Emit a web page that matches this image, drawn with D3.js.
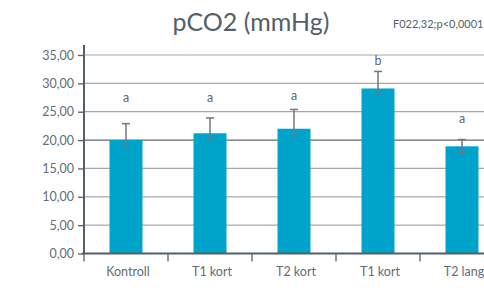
<!DOCTYPE html>
<html>
<head>
<meta charset="utf-8">
<script src="https://cdn.jsdelivr.net/npm/d3@7"></script>
<style>
  body { margin: 0; background: #fff; }
  svg { display: block; font-family: Lato, "Noto Sans", sans-serif; }
</style>
</head>
<body>
<svg id="chart" width="484" height="288"></svg>
<script>
var categories = ["Kontroll", "T1 kort", "T2 kort", "T1 kort", "T2 lang"]
var means = [20.0, 21.2, 22.0, 29.1, 18.9]
var errHigh = [22.9, 23.9, 25.4, 32.1, 20.1]
var errLow = [19.0, 20.1, 20.8, 28.2, 17.8]
var letters = ["a", "a", "a", "b", "a"]
var letterPos = [27.4, 27.4, 27.9, 34.0, 23.8]
var yTicks = [0, 5, 10, 15, 20, 25, 30, 35]

var svg = d3.select("#chart")
var plotLeft = 84, plotBottom = 253.5, plotTop = 55, step = 84

var x = d3.scaleBand().domain(d3.range(categories.length))
    .range([plotLeft, plotLeft + step * categories.length]).paddingInner(0).paddingOuter(0)
var y = d3.scaleLinear().domain([0, 35]).range([plotBottom, plotTop])
var fmt = function(d) { return d3.format(".2f")(d).replace(".", ",") }

// gridlines
svg.append("g").selectAll("line").data(yTicks.filter(function(d) { return d > 0 }))
  .join("line")
    .attr("x1", plotLeft).attr("x2", 484)
    .attr("y1", function(d) { return y(d) }).attr("y2", function(d) { return y(d) })
    .style("stroke", function(d) { return d == 20 ? "#5f6a72" : "#a3a8ac" })
    .style("stroke-width", 1.2)

// bars
var bw = 33
svg.append("g").selectAll("rect").data(means)
  .join("rect")
    .attr("x", function(d, i) { return x(i) + x.bandwidth() / 2 - bw / 2 })
    .attr("y", function(d) { return y(d) })
    .attr("width", bw)
    .attr("height", function(d) { return y(0) - y(d) })
    .style("fill", "#00a3c9")

// error bars
var eb = svg.append("g").style("stroke", "#6e787f").style("stroke-width", 1.5)
means.forEach(function(m, i) {
  var cx = x(i) + x.bandwidth() / 2
  eb.append("line").attr("x1", cx).attr("x2", cx).attr("y1", y(errHigh[i])).attr("y2", y(errLow[i]))
  eb.append("line").attr("x1", cx - 4).attr("x2", cx + 4).attr("y1", y(errHigh[i])).attr("y2", y(errHigh[i]))
  eb.append("line").attr("x1", cx - 4).attr("x2", cx + 4).attr("y1", y(errLow[i])).attr("y2", y(errLow[i]))
})

// significance letters
svg.append("g").selectAll("text").data(letters)
  .join("text")
    .attr("x", function(d, i) { return x(i) + x.bandwidth() / 2 })
    .attr("y", function(d, i) { return y(letterPos[i]) })
    .attr("dy", "0.35em")
    .attr("text-anchor", "middle")
    .style("font-size", "12.5px").style("fill", "#5d666d")
    .text(function(d) { return d })

// y axis
var yAxis = svg.append("g").attr("transform", "translate(" + plotLeft + ",0)")
    .call(d3.axisLeft(y).tickValues(yTicks).tickFormat(fmt).tickSize(6).tickPadding(4))
yAxis.select(".domain").remove()
yAxis.selectAll(".tick line").style("stroke", "#555f68").style("stroke-width", 1.3)
yAxis.selectAll(".tick text").style("font-size", "12.5px").style("fill", "#646d73")
  .style("font-family", "Lato, 'Noto Sans', sans-serif")
svg.append("line").attr("x1", plotLeft).attr("x2", plotLeft).attr("y1", 45).attr("y2", plotBottom)
  .style("stroke", "#555f68").style("stroke-width", 2)

// x axis
svg.append("line").attr("x1", plotLeft - 2).attr("x2", 484).attr("y1", plotBottom).attr("y2", plotBottom)
  .style("stroke", "#555f68").style("stroke-width", 2)
svg.append("g").selectAll("line").data(d3.range(categories.length + 1))
  .join("line")
    .attr("x1", function(i) { return plotLeft + i * step }).attr("x2", function(i) { return plotLeft + i * step })
    .attr("y1", plotBottom).attr("y2", plotBottom + 8)
    .style("stroke", "#555f68").style("stroke-width", 1.3)
svg.append("g").selectAll("text").data(categories)
  .join("text")
    .attr("x", function(d, i) { return x(i) + x.bandwidth() / 2 + 2 })
    .attr("y", 276)
    .attr("text-anchor", "middle")
    .style("font-size", "12.5px").style("fill", "#646d73")
    .text(function(d) { return d })

// title and stats note
svg.append("text").attr("x", 251).attr("y", 31).attr("text-anchor", "middle")
  .style("font-size", "25px").style("fill", "#555f68").text("pCO2 (mmHg)")
svg.append("text").attr("x", 393).attr("y", 28)
  .style("font-size", "11px").style("fill", "#555f68").text("F022,32;p<0,0001")
</script>
</body>
</html>
